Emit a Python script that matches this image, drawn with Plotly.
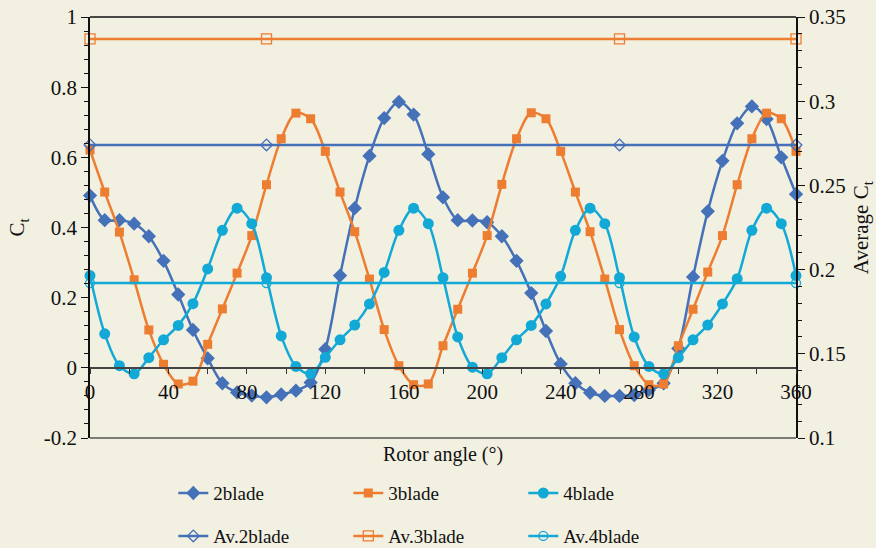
import plotly.graph_objects as go

angle = [i * 7.5 for i in range(49)]

blade2 = [0.491, 0.421, 0.421, 0.411, 0.375, 0.305, 0.209, 0.108, 0.027, -0.044,
          -0.070, -0.079, -0.084, -0.076, -0.065, -0.042, 0.053, 0.263, 0.455, 0.604,
          0.712, 0.758, 0.722, 0.609, 0.486, 0.421, 0.420, 0.415, 0.375, 0.305,
          0.213, 0.105, 0.011, -0.044, -0.071, -0.080, -0.080, -0.078, -0.063, -0.044,
          0.055, 0.259, 0.446, 0.590, 0.697, 0.745, 0.709, 0.600, 0.495]

blade3 = [0.621, 0.501, 0.387, 0.251, 0.108, 0.010, -0.046, -0.038, 0.067, 0.168,
          0.270, 0.377, 0.522, 0.653, 0.726, 0.710, 0.617, 0.501, 0.388, 0.253,
          0.109, 0.006, -0.048, -0.046, 0.063, 0.167, 0.270, 0.377, 0.523, 0.653,
          0.727, 0.710, 0.617, 0.501, 0.388, 0.253, 0.109, 0.006, -0.048, -0.046,
          0.063, 0.167, 0.273, 0.377, 0.522, 0.653, 0.726, 0.710, 0.617]

blade4 = [0.263, 0.097, 0.006, -0.017, 0.029, 0.080, 0.121, 0.183, 0.282, 0.392,
          0.455, 0.411, 0.257, 0.091, 0.004, -0.017, 0.030, 0.080, 0.122, 0.182,
          0.272, 0.392, 0.455, 0.411, 0.257, 0.088, 0.002, -0.017, 0.029, 0.080,
          0.121, 0.182, 0.261, 0.392, 0.455, 0.411, 0.257, 0.088, 0.004, -0.017,
          0.029, 0.080, 0.122, 0.182, 0.254, 0.392, 0.455, 0.411, 0.263]

av_angle = [0, 90, 270, 360]
av_blade2 = [0.274, 0.274, 0.274, 0.274]
av_blade3 = [0.337, 0.337, 0.337, 0.337]
av_blade4 = [0.192, 0.192, 0.192, 0.192]

x_ticks = [0, 40, 80, 120, 160, 200, 240, 280, 320, 360]
y_ticks = [-0.2, 0, 0.2, 0.4, 0.6, 0.8, 1]
y_ticklabels = ["-0.2", "0", "0.2", "0.4", "0.6", "0.8", "1"]
y2_ticks = [0.1, 0.15, 0.2, 0.25, 0.3, 0.35]
y2_ticklabels = ["0.1", "0.15", "0.2", "0.25", "0.3", "0.35"]

BLUE = "#4471B8"
ORANGE = "#ED7D31"
CYAN = "#12A9D6"
BG = "#F2F0E1"
FONT = "Liberation Serif, Times New Roman, serif"

fig = go.Figure()

def curve(y, name, color, symbol, size):
    fig.add_trace(go.Scatter(
        x=angle, y=y, name=name, mode="lines+markers",
        line=dict(color=color, width=2.5, shape="spline", smoothing=0.9),
        marker=dict(symbol=symbol, size=size, color=color),
        cliponaxis=False, legend="legend"))

def avg(y, name, color, symbol, size):
    fig.add_trace(go.Scatter(
        x=av_angle, y=y, name=name, mode="lines+markers", yaxis="y2",
        line=dict(color=color, width=2.5),
        marker=dict(symbol=symbol, size=size, color=color, line=dict(width=1.3, color=color)),
        cliponaxis=False, legend="legend2"))

avg(av_blade2, "Av.2blade", BLUE, "diamond-open", 9)
avg(av_blade3, "Av.3blade", ORANGE, "square-open", 10)
avg(av_blade4, "Av.4blade", CYAN, "circle-open", 9)
curve(blade2, "2blade", BLUE, "diamond", 11)
curve(blade3, "3blade", ORANGE, "square", 9)
curve(blade4, "4blade", CYAN, "circle", 11)

axis_font = dict(family=FONT, size=21, color="#111111")
leg_font = dict(family=FONT, size=19, color="#111111")

fig.update_layout(
    width=876, height=548,
    margin=dict(l=90, r=80, t=17, b=110, autoexpand=False),
    paper_bgcolor=BG, plot_bgcolor=BG,
    font=dict(family=FONT, size=20, color="#111111"),
    xaxis=dict(range=[0, 360], anchor="free", position=1/6,
               tickvals=x_ticks, ticktext=[str(v) for v in x_ticks],
               ticks="outside", ticklen=5, tickwidth=1.2, tickcolor="#333333",
               minor=dict(dtick=20, ticks="outside", ticklen=5, tickcolor="#333333"),
               showline=True, linecolor="#444444", linewidth=1.5,
               showgrid=False, zeroline=False, tickfont=axis_font),
    yaxis=dict(range=[-0.2, 1], tickvals=y_ticks, ticktext=y_ticklabels,
               ticks="outside", ticklen=7, tickwidth=1.2, tickcolor="#111111",
               minor=dict(dtick=0.04, ticks="outside", ticklen=4, tickcolor="#111111"),
               showline=True, linecolor="#111111", linewidth=1.5,
               showgrid=False, zeroline=False, tickfont=axis_font),
    yaxis2=dict(range=[0.1, 0.35], overlaying="y", side="right",
                tickvals=y2_ticks, ticktext=y2_ticklabels,
                ticks="outside", ticklen=7, tickwidth=1.2, tickcolor="#111111",
                minor=dict(dtick=0.01, ticks="outside", ticklen=4, tickcolor="#111111"),
                showline=True, linecolor="#111111", linewidth=1.5,
                showgrid=False, zeroline=False, tickfont=axis_font),
    legend=dict(orientation="h", x=0.118, y=-0.131, xanchor="left", yanchor="middle",
                entrywidth=130, entrywidthmode="pixels", itemwidth=30,
                bgcolor="rgba(0,0,0,0)", traceorder="normal", font=leg_font),
    legend2=dict(orientation="h", x=0.118, y=-0.233, xanchor="left", yanchor="middle",
                 entrywidth=130, entrywidthmode="pixels", itemwidth=30,
                 bgcolor="rgba(0,0,0,0)", traceorder="normal", font=leg_font),
    showlegend=True,
    shapes=[
        dict(type="line", xref="paper", yref="paper", x0=0, x1=1, y0=1, y1=1,
             line=dict(color="#111111", width=1.5)),
        dict(type="line", xref="paper", yref="paper", x0=0, x1=1, y0=0, y1=0,
             line=dict(color="#555555", width=1.5)),
    ],
    annotations=[
        dict(text="Rotor angle (°)", xref="paper", yref="paper", x=0.5, y=-0.04,
             showarrow=False, xanchor="center", yanchor="middle",
             font=dict(family=FONT, size=20, color="#111111")),
        dict(text="C<sub>t</sub>", xref="paper", yref="paper", x=-0.102, y=0.5,
             showarrow=False, textangle=-90, xanchor="center", yanchor="middle",
             font=dict(family=FONT, size=21, color="#111111")),
        dict(text="Average C<sub>t</sub>", xref="paper", yref="paper", x=1.093, y=0.5,
             showarrow=False, textangle=-90, xanchor="center", yanchor="middle",
             font=dict(family=FONT, size=21, color="#111111")),
    ],
)

fig.write_html("out.html")
